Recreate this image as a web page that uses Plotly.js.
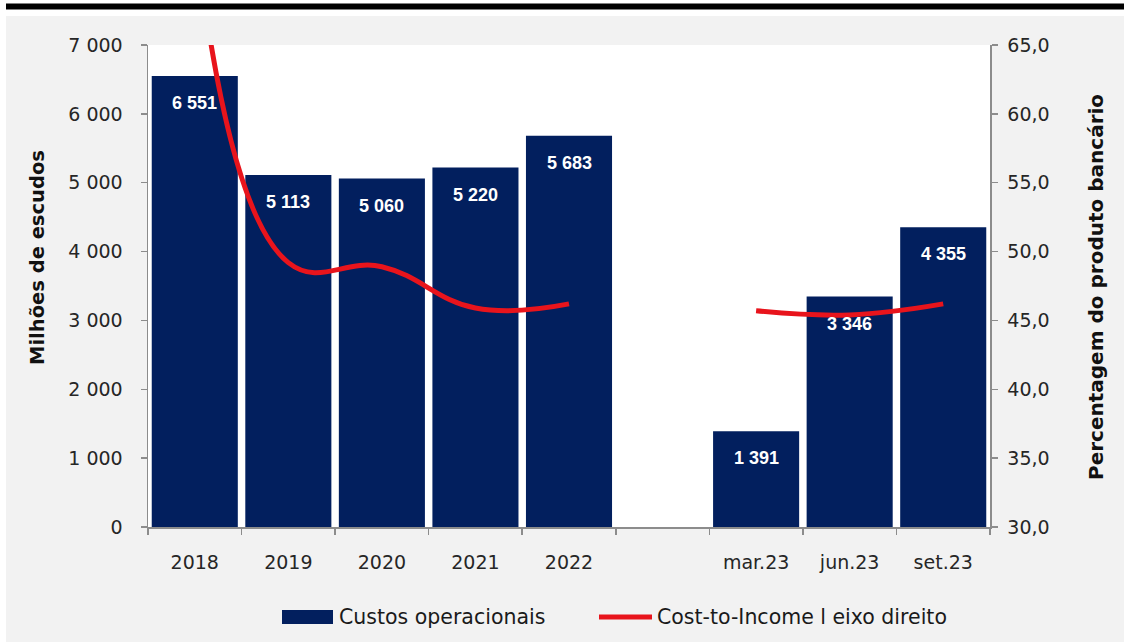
<!DOCTYPE html>
<html>
<head>
<meta charset="utf-8">
<script src="https://cdn.plot.ly/plotly-3.0.1.min.js"></script>
<style>
  html, body { margin: 0; padding: 0; background: #ffffff; }
  #chart { width: 1124px; height: 642px; }
</style>
</head>
<body>
<div id="chart"></div>
<script>
// ---- data ----
const categories = ["2018", "2019", "2020", "2021", "2022", " ", "mar.23", "jun.23", "set.23"];
const custosOperacionais = [6551, 5113, 5060, 5220, 5683, null, 1391, 3346, 4355];
const costToIncome = [73.5, 49.2, 48.9, 45.9, 46.2, null, 45.7, 45.4, 46.2];
const leftTicks = [0, 1000, 2000, 3000, 4000, 5000, 6000, 7000];
const rightTicks = [30, 35, 40, 45, 50, 55, 60, 65];
const seriesNames = ["Custos operacionais", "Cost-to-Income l eixo direito"];

// ---- layout helpers (pixel -> paper) ----
const W = 1124, H = 642;
const M = { l: 148, r: 134, t: 45, b: 115 };
const PW = W - M.l - M.r, PH = H - M.t - M.b;
const px = x => (x - M.l) / PW;
const py = y => 1 - (y - M.t) / PH;

const tickFont = { family: "DejaVu Sans, Arial, sans-serif", size: 19, color: "#262626" };
const legendFont = { family: "DejaVu Sans, Arial, sans-serif", size: 20.5, color: "#1a1a1a" };
const barColor = "#021f5e";
const lineColor = "#e8141c";

const fmtThousands = v => String(v).replace(/\B(?=(\d{3})+(?!\d))/g, " ");

const traces = [
  {
    type: "bar",
    name: seriesNames[0],
    x: categories,
    y: custosOperacionais,
    marker: { color: barColor, line: { width: 0 } },
    hoverinfo: "x+y"
  },
  {
    type: "scatter",
    mode: "lines",
    name: seriesNames[1],
    x: categories,
    y: costToIncome,
    yaxis: "y2",
    line: { color: lineColor, width: 5, shape: "spline", smoothing: 1.2 },
    connectgaps: false
  }
];

const annotations = [];
categories.forEach((c, i) => {
  const v = custosOperacionais[i];
  if (v === null) return;
  annotations.push({
    x: i, y: v, xref: "x", yref: "y",
    text: fmtThousands(v),
    showarrow: false, yanchor: "middle", yshift: -27,
    font: { family: "Liberation Sans, Arial, sans-serif", size: 18, color: "#ffffff", weight: "bold" }
  });
});
annotations.push({
  xref: "paper", yref: "paper", x: px(37), y: py(258),
  text: "<b>Milhões de escudos</b>", textangle: -90, showarrow: false,
  xanchor: "center", yanchor: "middle",
  font: { family: "DejaVu Sans, Arial, sans-serif", size: 19.5, color: "#111111" }
});
annotations.push({
  xref: "paper", yref: "paper", x: px(1096), y: py(287),
  text: "<b>Percentagem do produto bancário</b>", textangle: -90, showarrow: false,
  xanchor: "center", yanchor: "middle",
  font: { family: "DejaVu Sans, Arial, sans-serif", size: 20, color: "#111111" }
});
// legend texts
annotations.push({
  xref: "paper", yref: "paper", x: px(337), y: py(617), xanchor: "left", yanchor: "middle",
  text: seriesNames[0], showarrow: false, font: legendFont
});
annotations.push({
  xref: "paper", yref: "paper", x: px(655), y: py(617), xanchor: "left", yanchor: "middle",
  text: seriesNames[1], showarrow: false, font: legendFont
});

const shapes = [
  { type: "rect", xref: "paper", yref: "paper", x0: px(0), x1: px(W), y0: py(16), y1: py(0),
    fillcolor: "#ffffff", line: { width: 0 }, layer: "below" },
  { type: "rect", xref: "paper", yref: "paper", x0: px(0), x1: px(6), y0: py(H), y1: py(0),
    fillcolor: "#ffffff", line: { width: 0 }, layer: "below" },
  { type: "rect", xref: "paper", yref: "paper", x0: px(6), x1: px(W), y0: py(9.5), y1: py(3.5),
    fillcolor: "#000000", line: { width: 0 }, layer: "below" },
  // legend swatches
  { type: "rect", xref: "paper", yref: "paper", x0: px(282), x1: px(333), y0: py(624), y1: py(610),
    fillcolor: barColor, line: { width: 0 } },
  { type: "line", xref: "paper", yref: "paper", x0: px(599), x1: px(652), y0: py(617), y1: py(617),
    line: { color: lineColor, width: 5 } }
];

const layout = {
  width: W, height: H,
  margin: M,
  paper_bgcolor: "#f2f2f2",
  plot_bgcolor: "#ffffff",
  separators: ", ",
  bargap: 0.08,
  showlegend: false,
  xaxis: {
    type: "category",
    categoryarray: categories, categoryorder: "array",
    range: [-0.5, categories.length - 0.5],
    showline: true, linecolor: "#8c8c8c", linewidth: 1.5,
    ticks: "outside", tickson: "boundaries", ticklen: 6, tickcolor: "#8c8c8c", tickwidth: 1.5,
    ticklabelstandoff: 18, tickangle: 0,
    tickfont: tickFont, showgrid: false, zeroline: false, fixedrange: true
  },
  yaxis: {
    range: [0, 7000], tickvals: leftTicks, tickformat: ",d",
    showline: true, linecolor: "#8c8c8c", linewidth: 1.5,
    ticks: "outside", ticklen: 6, tickcolor: "#8c8c8c", tickwidth: 1.5,
    ticklabelstandoff: 14,
    tickfont: tickFont, showgrid: false, zeroline: false, fixedrange: true
  },
  yaxis2: {
    overlaying: "y", side: "right",
    range: [30, 65], tickvals: rightTicks, tickformat: ".1f",
    showline: true, linecolor: "#8c8c8c", linewidth: 1.5,
    ticks: "outside", ticklen: 6, tickcolor: "#8c8c8c", tickwidth: 1.5,
    ticklabelstandoff: 6,
    tickfont: tickFont, showgrid: false, zeroline: false, fixedrange: true
  },
  annotations: annotations,
  shapes: shapes
};

Plotly.newPlot("chart", traces, layout, { displayModeBar: false, staticPlot: true });
</script>
</body>
</html>
